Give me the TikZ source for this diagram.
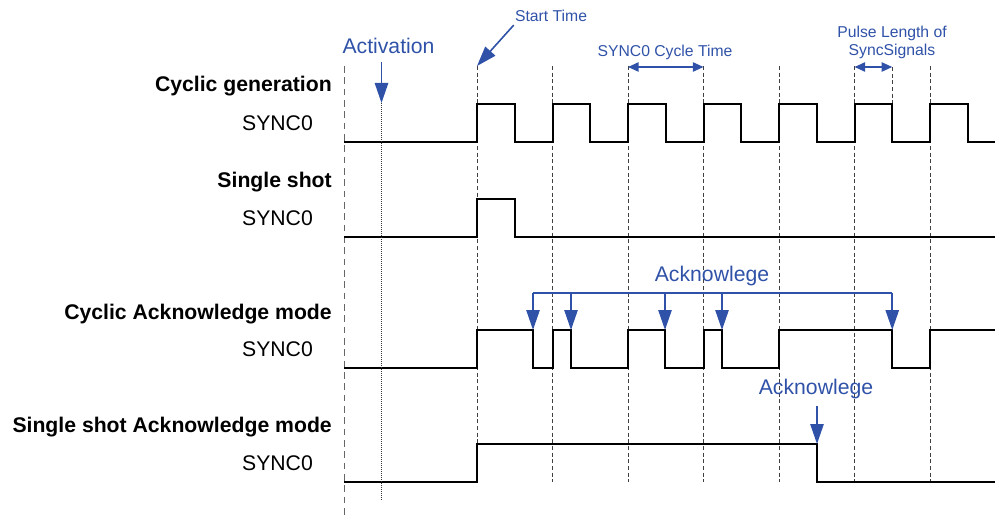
\documentclass[tikz,border=0pt]{standalone}
\usepackage{fontspec}
\setmainfont{Liberation Sans}
\usetikzlibrary{arrows.meta}
\definecolor{ackblue}{RGB}{47,82,168}

\begin{document}
\begin{tikzpicture}[x=0.75pt,y=-0.75pt,
        signal/.style={line width=1.5pt, line join=miter},
        cyclegrid/.style={black!75, line width=0.6pt, dash pattern=on 3pt off 2pt},
        framegrid/.style={black!60, line width=0.7pt, dash pattern=on 5pt off 3.5pt},
        dottedgrid/.style={black!80, line width=0.5pt, dash pattern=on 0.6pt off 0.9pt},
        modelabel/.style={font=\fontsize{15.9}{18}\selectfont\bfseries, inner sep=0pt},
        siglabel/.style={font=\fontsize{15.9}{18}\selectfont, inner sep=0pt, anchor=base},
        biglabel/.style={font=\fontsize{15.9}{18}\selectfont, inner sep=0pt, text=ackblue, anchor=base},
        smalllabel/.style={font=\fontsize{11.8}{13.5}\selectfont, inner sep=0pt, text=ackblue},
        bigarrow/.style={ackblue, line width=1.2pt, -{Triangle[length=15pt,width=10pt]}},
        dimarrow/.style={ackblue, line width=1.2pt, {Triangle[length=8pt,width=7pt]}-{Triangle[length=8pt,width=7pt]}},
        bracket/.style={ackblue, line width=1.1pt}]
        \useasboundingbox (0,0) rectangle (995,517);

        % time grid
        \draw[framegrid] (344,66) -- (344,517);
        \draw[cyclegrid] (477,66) -- (477,444);
        \foreach \t in {552.5,628,703.5,779,854.5,930}
            \draw[cyclegrid] (\t,66) -- (\t,482);
        \draw[cyclegrid] (892.25,67) -- (892.25,104);

        % mode labels
        \node[modelabel, anchor=base east] (cycgen) at (332,92) {Cyclic generation};
        \node[siglabel] (sync1) at (277.5,130.5) {SYNC0};
        \node[modelabel, anchor=base east] (single) at (332,187) {Single shot};
        \node[siglabel] (sync2) at (277.5,225.5) {SYNC0};
        \node[modelabel, anchor=base east] (cycack) at (332,319) {Cyclic Acknowledge mode};
        \node[siglabel] (sync3) at (277.5,356.5) {SYNC0};
        \node[modelabel, anchor=base east] (singleack) at (332,432) {Single shot Acknowledge mode};
        \node[siglabel] (sync4) at (277.5,470.5) {SYNC0};

        % signals
        \draw[signal] (344,142) -- (477,142) -- (477,104) -- (514.75,104) -- (514.75,142)
            -- (552.5,142) -- (552.5,104) -- (590.25,104) -- (590.25,142)
            -- (628,142) -- (628,104) -- (665.75,104) -- (665.75,142)
            -- (703.5,142) -- (703.5,104) -- (741.25,104) -- (741.25,142)
            -- (779,142) -- (779,104) -- (816.75,104) -- (816.75,142)
            -- (854.5,142) -- (854.5,104) -- (892.25,104) -- (892.25,142)
            -- (930,142) -- (930,104) -- (967.75,104) -- (967.75,142) -- (995,142);
        \draw[signal] (344,237) -- (477,237) -- (477,199) -- (514.75,199) -- (514.75,237) -- (995,237);
        \draw[signal] (344,368) -- (477,368) -- (477,330) -- (533,330) -- (533,368)
            -- (552.5,368) -- (552.5,330) -- (571,330) -- (571,368)
            -- (628,368) -- (628,330) -- (665,330) -- (665,368)
            -- (703.5,368) -- (703.5,330) -- (722,330) -- (722,368)
            -- (779,368) -- (779,330) -- (892.25,330) -- (892.25,368)
            -- (930,368) -- (930,330) -- (995,330);
        \draw[signal] (344,482) -- (477,482) -- (477,444) -- (817,444) -- (817,482) -- (995,482);

        % timing labels
        \node[biglabel] (activation) at (388.5,54) {Activation};
        \coordinate (actTip) at (381.5,103);
        \coordinate (actEnd) at (381.5,500);
        \draw[bigarrow] ([yshift=-6pt]activation.south -| actTip) -- (actTip);
        \draw[dottedgrid] (actTip) -- (actEnd);

        \node[smalllabel, anchor=base] (starttime) at (551,22) {Start Time};
        \coordinate (startTip) at (477,66);
        \draw[bigarrow] ([xshift=-0.75pt,yshift=-2pt]starttime.south west) -- (startTip);

        \node[smalllabel, anchor=base] (cycletime) at (665,57) {SYNC0 Cycle Time};
        \coordinate (cycL) at (628,67);
        \coordinate (cycR) at (703.5,67);
        \draw[dimarrow] (cycL) -- (cycR);

        \node[smalllabel, anchor=north, align=center] (pulselen) at (892,25.5) {Pulse Length of\\SyncSignals};
        \coordinate (pulL) at (854.5,67);
        \coordinate (pulR) at (892.25,67);
        \draw[dimarrow] (pulL) -- (pulR);

        % acknowledge arrows
        \node[biglabel] (ackcyc) at (712,281) {Acknowlege};
        \coordinate (ackL) at (533,293);
        \coordinate (ackR) at (892.25,293);
        \draw[bracket] (ackL) -- (ackR);
        \foreach \x/\n in {533/a,571/b,665/c,722/d,892.25/e} {
            \coordinate (ack\n) at (\x,330);
            \draw[bigarrow] (ackL -| ack\n) -- (ack\n);
        }

        \node[biglabel] (acksingle) at (816,394) {Acknowlege};
        \coordinate (ackdrop) at (817,444);
        \draw[bigarrow] ([yshift=-5.7pt]acksingle.south -| ackdrop) -- (ackdrop);
    \end{tikzpicture}
\end{document}
